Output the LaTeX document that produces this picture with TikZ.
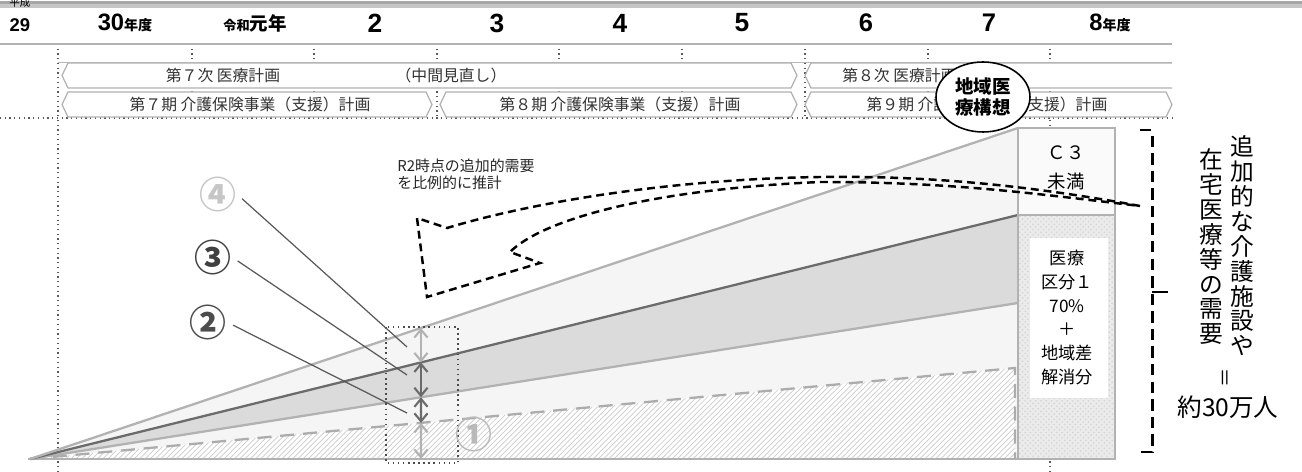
\documentclass[tikz,border=0pt]{standalone}
\usepackage{fontspec}
\setmainfont{Liberation Sans}
\newfontfamily\jp{Noto Sans CJK JP}
\usetikzlibrary{calc}
\usetikzlibrary{patterns}
\usetikzlibrary{arrows.meta}
\usetikzlibrary{shapes.geometric}
\definecolor{LineLight}{gray}{0.70}
\definecolor{LineDark}{gray}{0.42}
\definecolor{BandMid}{gray}{0.86}
\definecolor{BandPale}{gray}{0.96}
\newcommand{\yrnum}[2]{{\bfseries\fontsize{#1}{#1}\selectfont #2}}
\newcommand{\yrunit}[2]{{\jp\bfseries\fontsize{#1}{#1}\selectfont #2}}
% hexagonal plan bar: x-left, x-right, y-top, y-bottom
\newcommand{\planbar}[4]{%
  \draw[planline] (#1,{(#3+#4)/2}) -- ({#1+6},#3) -- ({#2-6},#3) -- (#2,{(#3+#4)/2})
    -- ({#2-6},#4) -- ({#1+6},#4) -- cycle;}
\tikzset{
  yearlab/.style={inner sep=0pt},
  ruleline/.style={gray!60, line width=1.1pt},
  thinrule/.style={gray!55, line width=0.5pt},
  griddot/.style={black!65, dotted, line width=0.7pt},
  planline/.style={draw=gray!60, fill=white, line width=0.7pt},
  plantext/.style={font=\jp\fontsize{9}{9}\selectfont, text=black!80, inner sep=0pt},
  growth/.style={line width=1.3pt},
  gapspan/.style={{Straight Barb[length=4.5pt,width=7.5pt]}-{Straight Barb[length=4.5pt,width=7.5pt]}, line width=1.2pt},
  leader/.style={black!65, line width=0.7pt, shorten <=4pt},
  numlab/.style={font=\jp\bfseries\fontsize{21}{21}\selectfont, inner sep=0pt},
  bigarrow/.style={line width=1.4pt, dash pattern=on 4.5pt off 2.8pt},
  bracketline/.style={line width=1.7pt, dash pattern=on 6.5pt off 3.5pt},
  boxtext/.style={font=\jp\fontsize{9.8}{13.6}\selectfont, align=center, inner sep=0pt},
  vtext/.style={font=\jp\fontsize{13.5}{14.2}\selectfont, align=center, inner sep=0pt, anchor=north}
}
\begin{document}
\begin{tikzpicture}[x=0.02cm,y=-0.02cm]
  \useasboundingbox (0,0) rectangle (1302,472);
  % header band and year row
  \fill[gray!70] (0,1) rectangle (1302,4.5);
  \fill[gray!45] (0,4.5) rectangle (1302,8.5);
  \node[font=\jp\fontsize{6}{6}\selectfont] (era) at (20,3) {平成};
  \node[yearlab] (y29) at (20,25) {\yrnum{10.5}{29}};
  \node[yearlab] (y30) at (125,23) {\yrnum{13.5}{30}\yrunit{8}{年度}};
  \node[yearlab] (yr1) at (255,23) {\yrunit{7.5}{令和}\yrunit{10.5}{元年}};
  \node[yearlab] (y2) at (375,23) {\yrnum{15}{2}};
  \node[yearlab] (y3) at (497,23) {\yrnum{15}{3}};
  \node[yearlab] (y4) at (620,23) {\yrnum{15}{4}};
  \node[yearlab] (y5) at (742,23) {\yrnum{15}{5}};
  \node[yearlab] (y6) at (866,23) {\yrnum{14.5}{6}};
  \node[yearlab] (y7) at (989,23) {\yrnum{14.5}{7}};
  \node[yearlab] (y8) at (1110,23) {\yrnum{13.5}{8}\yrunit{8}{年度}};
  % grid
  \draw[griddot] (58,44) -- (58,472);
  \foreach \gx in {192,314,437,559,682,805,928}
    \draw[griddot] (\gx,44) -- (\gx,118);
  \draw[griddot] (1050,44) -- (1050,472);
  \draw[griddot] (0,118) -- (1175,118);
  \draw[ruleline] (0,44) -- (1172,44);
  \draw[thinrule] (58,62) -- (1172,62);
  % plan bars
  \planbar{62}{797}{63}{88}
  \fill[white] (811,63) rectangle (1172,88);
  \draw[planline, fill=none] (1172,63) -- (811,63) -- (805,75.5) -- (811,88) -- (1172,88);
  \planbar{62}{432}{92}{117}
  \planbar{440}{797}{92}{117}
  \planbar{805}{1172}{92}{117}
  \node[plantext] (med7) at (223,75.5) {第７次 医療計画};
  \node[plantext] (mid7) at (451,75.5) {（中間見直し）};
  \node[plantext, anchor=west] (med8) at (842,75.5) {第８次 医療計画};
  \node[plantext] (care7) at (250,104.5) {第７期 介護保険事業（支援）計画};
  \node[plantext] (care8) at (620,104.5) {第８期 介護保険事業（支援）計画};
  \node[plantext] (care9) at (987,104.5) {第９期 介護保険事業（支援）計画};
  % demand wedges
  \coordinate (O) at (30,459);
  \coordinate (A1) at (1015,368);
  \coordinate (A2) at (1018,303);
  \coordinate (A3) at (1018,215);
  \coordinate (A4) at (1018,128);
  \coordinate (B) at (1018,459);
  \fill[BandPale] (O) -- (A4) -- (B) -- cycle;
  \fill[BandMid] (O) -- (A3) -- (A2) -- cycle;
  \fill[white] (O) -- (A1) -- (1015,459) -- cycle;
  \fill[pattern=north east lines, pattern color=gray!40] (O) -- (A1) -- (1015,459) -- cycle;
  \draw[gray!60, line width=1.1pt] (28,459) -- (1115,459);
  \draw[gray!65, line width=1.3pt, dash pattern=on 8pt off 5pt] (O) -- (A1) -- (1015,459);
  \draw[growth, LineLight] (O) -- (A2);
  \draw[growth, LineDark] (O) -- (A3);
  \draw[growth, LineLight] (O) -- (A4);
  % right-hand box
  \fill[gray!4] (1018,128) rectangle (1115,215);
  \fill[gray!16] (1018,215) rectangle (1115,459);
  \fill[pattern=crosshatch dots, pattern color=gray!35] (1018,215) rectangle (1115,459);
  \fill[white] (1030,238) rectangle (1108,398);
  \draw[gray!60, line width=1.1pt] (1018,128) rectangle (1115,459);
  \draw[gray!60, line width=1.1pt] (1018,215) -- (1115,215);
  \node[boxtext, font=\jp\fontsize{10.5}{16.4}\selectfont] (c3) at (1066,167.5) {Ｃ３\\未満};
  \node[boxtext] (kubun) at (1067,317.5) {医療\\区分１\\70\%\\＋\\地域差\\解消分};
  % span arrows
  \draw[black!70, dotted, line width=0.9pt] (386,327) rectangle (458,463);
  \coordinate (k4) at ($(O)!0.3957!(A4)$);
  \coordinate (k3) at ($(O)!0.3957!(A3)$);
  \coordinate (k2) at ($(O)!0.3957!(A2)$);
  \coordinate (k1) at ($(O)!0.397!(A1)$);
  \coordinate (k0) at (421,459);
  \draw[gapspan, LineLight] (k4) -- (k3);
  \draw[gapspan, LineDark] (k3) -- (k2);
  \draw[gapspan, LineDark] (k2) -- (k1);
  \draw[gapspan, gray!60] (k1) -- (k0);
  % circled labels
  \node[numlab, text=gray!45] (n4) at (218,194) {④};
  \node[numlab, text=black!75] (n3) at (213,257) {③};
  \node[numlab, text=black!70] (n2) at (208,322) {②};
  \node[numlab, text=gray!55] (n1) at (474,434) {①};
  \coordinate (t4) at (407,347);
  \coordinate (t3) at (407,375);
  \coordinate (t2) at (407,413);
  \draw[leader] (n4.east) -- (t4);
  \draw[leader] (n3.east) -- (t3);
  \draw[leader] (n2.east) -- (t2);
  % proportional estimate arrow
  \node[font=\jp\fontsize{8.5}{9.5}\selectfont, align=left, anchor=north west, inner sep=0pt, text=black!85]
    (note) at (397,159) {R2時点の追加的需要\\を比例的に推計};
  \draw[bigarrow] (1140,206) .. controls (1000,180) and (900,176) .. (820,177)
    .. controls (680,179) and (540,200) .. (447,228) -- (417,218) -- (427,297)
    -- (540,263) -- (510,252) .. controls (540,222) and (640,190) .. (820,182)
    .. controls (950,182) and (1030,193) .. (1140,206);
  % regional vision marker
  \node[ellipse, draw, fill=white, line width=0.9pt, minimum width=1.88cm, minimum height=1.4cm,
    inner sep=0pt, align=center, font=\jp\bfseries\fontsize{10.5}{12.5}\selectfont] (vision) at (983,97) {地域医\\療構想};
  % total bracket
  \draw[bracketline] (1140,130) -- (1152,130) -- (1152,452) -- (1137,452);
  \draw[bracketline, dash pattern=] (1152,292) -- (1168,292);
  \node[vtext] (colA) at (1242,135) {追\\加\\的\\な\\介\\護\\施\\設\\や};
  \node[vtext] (colB) at (1211,148) {在\\宅\\医\\療\\等\\の\\需\\要};
  \node[font=\jp\fontsize{11}{11}\selectfont, rotate=90] (eq) at (1227,378) {＝};
  \node[font=\jp\fontsize{14}{14}\selectfont, inner sep=0pt] (total) at (1228,407) {約30万人};
\end{tikzpicture}
\end{document}
